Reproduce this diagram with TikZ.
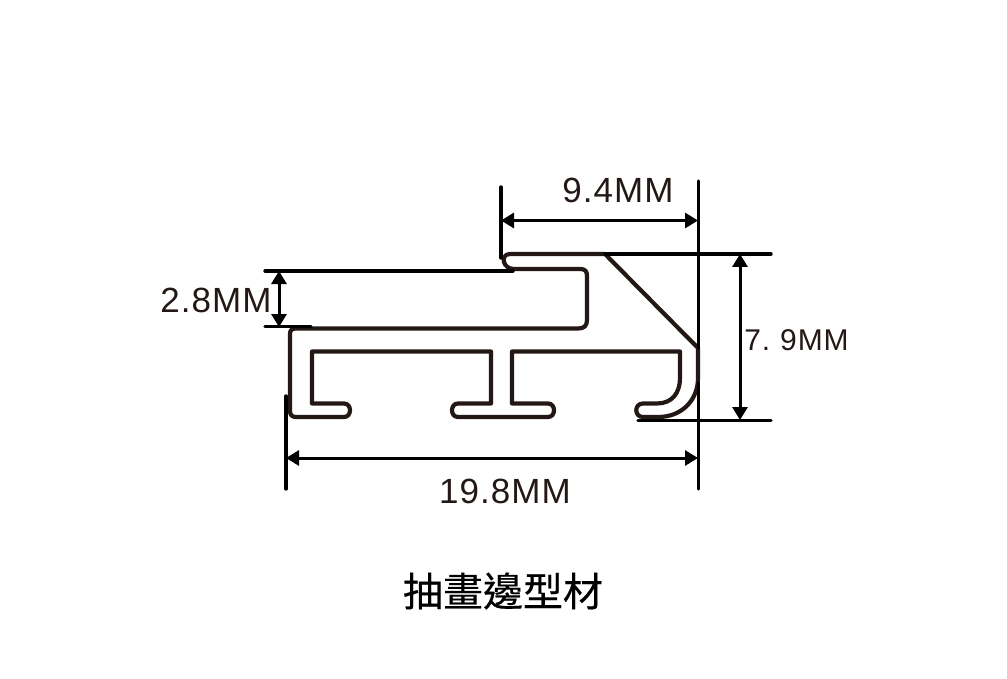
\documentclass[tikz,border=0pt]{standalone}
\usepackage{fontspec}
\setmainfont{Liberation Sans}
\newfontfamily\dimfont[LetterSpace=3]{Liberation Sans}
\newfontfamily\cjk[FakeBold=0.4]{Noto Sans CJK TC}
\usetikzlibrary{arrows.meta}
\definecolor{profilecolor}{HTML}{231815}
\tikzset{
  profileline/.style={draw=profilecolor,line width=4.2pt,line join=round,line cap=round},
  extline/.style={draw=black,line width=3.4pt,line cap=round},
  dimline/.style={draw=black,line width=3pt,{Triangle[length=13pt,width=15pt]}-{Triangle[length=13pt,width=15pt]},shorten <=-1pt,shorten >=-1pt},
  dimlabel/.style={font=\dimfont\fontsize{35}{35}\selectfont,text=profilecolor,inner sep=0pt},
  titlelabel/.style={font=\cjk\fontsize{40}{40}\selectfont,text=black,inner sep=0pt}
}
\begin{document}
\begin{tikzpicture}[x=1pt,y=-1pt]
      \useasboundingbox (0,0) rectangle (1007,679);
      \draw[draw=none]
        (501,187) coordinate (a0)
        (501,258) coordinate (a1)
        (698.5,181) coordinate (b0)
        (698.5,348) coordinate (b1)
        (698.5,383) coordinate (b2)
        (698.5,489) coordinate (b3)
        (286,396) coordinate (c0)
        (286,489) coordinate (c1)
        (605,254) coordinate (d0)
        (771,254) coordinate (d1)
        (638,420.5) coordinate (e0)
        (771,420.5) coordinate (e1)
        (265,271) coordinate (f0)
        (513,271) coordinate (f1)
        (265,326.5) coordinate (g0)
        (311,326.5) coordinate (g1)
        (502,220.5) coordinate (h0)
        (697,220.5) coordinate (h1)
        (740,255) coordinate (i0)
        (740,419) coordinate (i1)
        (279,272) coordinate (j0)
        (279,326) coordinate (j1)
        (287,458) coordinate (k0)
        (697,458) coordinate (k1);
      % profile
      \draw[profileline]
        (510,254) .. controls (504,254) and (503,259) .. (504,262)
        .. controls (505,266) and (509,269) .. (514,269)
        -- (580,269) .. controls (585,269) and (587,271) .. (587,276)
        -- (587,320) .. controls (587,326) and (584,328.5) .. (578,328.5)
        -- (296,328.5) .. controls (292,328.5) and (290,330) .. (290,334)
        -- (290,411) .. controls (290,415) and (292,417) .. (296,417)
        -- (344,417) .. controls (352,417) and (352,403.5) .. (344,403.5)
        -- (312,403.5) -- (312,351.5) -- (491,351.5) -- (491,403.5)
        -- (458,403.5) .. controls (450,403.5) and (450,417) .. (458,417)
        -- (548,417) .. controls (556,417) and (556,403.5) .. (548,403.5)
        -- (512,403.5) -- (512,351.5) -- (680,351.5) -- (680,378)
        .. controls (680,393) and (672,403.5) .. (657,403.5)
        -- (643,403.5) .. controls (634,403.5) and (634,417) .. (643,417)
        -- (658,417) .. controls (682,417) and (698,400) .. (698,378)
        -- (698,348) -- (605,254) -- (510,254);
      % dimensions
      \begin{scope}[extline]
        \draw (a0) to (a1);
        \draw (b0) to (b1);
        \draw (b2) to (b3);
        \draw (c0) to (c1);
        \draw (d0) to (d1);
        \draw (e0) to (e1);
        \draw (f0) to (f1);
        \draw (g0) to (g1);
      \end{scope}
      \begin{scope}[dimline]
        \draw (h0) to (h1);
        \draw (i0) to (i1);
        \draw (j0) to (j1);
        \draw (k0) to (k1);
      \end{scope}
      \node[dimlabel] (width94) at (618,190) {9.4MM};
      \node[dimlabel,font=\dimfont\fontsize{30}{30}\selectfont] (height79) at (796.5,340) {7.\hspace{10pt}9MM};
      \node[dimlabel] (height28) at (216,300) {2.8MM};
      \node[dimlabel] (width198) at (505,491) {19.8MM};
      \node[titlelabel] (title) at (503,591) {抽畫邊型材};
    \end{tikzpicture}
\end{document}
